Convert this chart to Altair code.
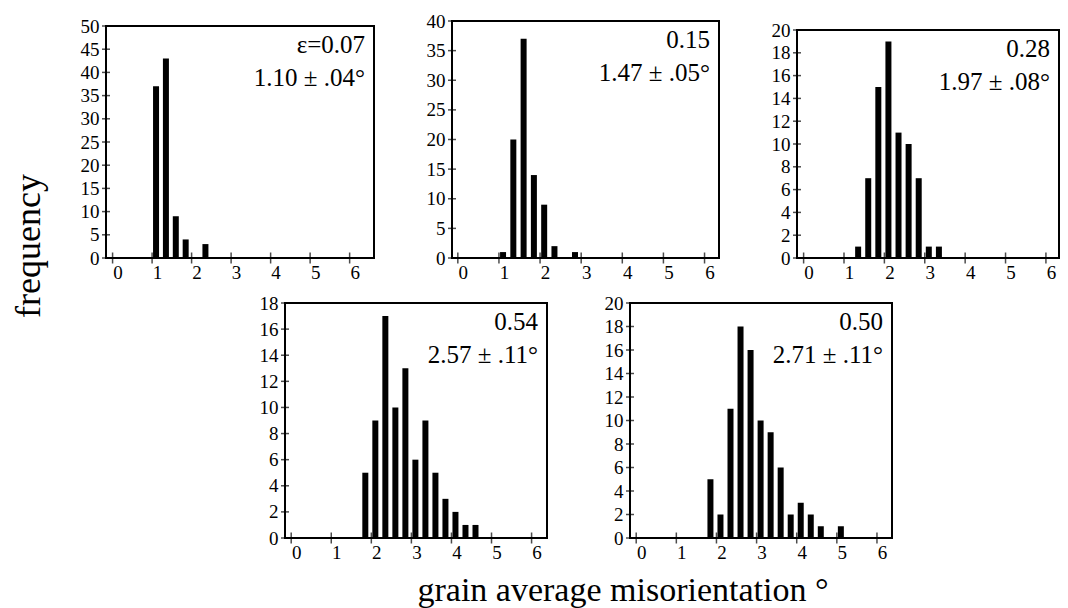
import altair as alt
import pandas as pd

FONT = "Liberation Serif"

# ---- data ----
strain_labels = ["ε=0.07", "0.15", "0.28", "0.54", "0.50"]
mean_labels = ["1.10 ± .04°", "1.47 ± .05°", "1.97 ± .08°", "2.57 ± .11°", "2.71 ± .11°"]

bins_1 = [1.1, 1.35, 1.6, 1.85, 2.35]
freq_1 = [37, 43, 9, 4, 3]

bins_2 = [1.1, 1.35, 1.6, 1.85, 2.1, 2.35, 2.85]
freq_2 = [1, 20, 37, 14, 9, 2, 1]

bins_3 = [1.35, 1.6, 1.85, 2.1, 2.35, 2.6, 2.85, 3.1, 3.35]
freq_3 = [1, 7, 15, 19, 11, 10, 7, 1, 1]

bins_4 = [1.85, 2.1, 2.35, 2.6, 2.85, 3.1, 3.35, 3.6, 3.85, 4.1, 4.35, 4.6]
freq_4 = [5, 9, 17, 10, 13, 6, 9, 5, 3, 2, 1, 1]

bins_5 = [1.85, 2.1, 2.35, 2.6, 2.85, 3.1, 3.35, 3.6, 3.85, 4.1, 4.35, 4.6, 5.1]
freq_5 = [5, 2, 11, 18, 16, 10, 9, 6, 2, 3, 2, 1, 1]

x_ticks = [0, 1, 2, 3, 4, 5, 6]
y_ticks_1 = [0, 5, 10, 15, 20, 25, 30, 35, 40, 45, 50]
y_ticks_2 = [0, 5, 10, 15, 20, 25, 30, 35, 40]
y_ticks_3 = [0, 2, 4, 6, 8, 10, 12, 14, 16, 18, 20]
y_ticks_4 = [0, 2, 4, 6, 8, 10, 12, 14, 16, 18]
y_ticks_5 = [0, 2, 4, 6, 8, 10, 12, 14, 16, 18, 20]

x_label = "grain average misorientation °"
y_label = "frequency"


def panel(bins, freqs, yticks, xdom, w, h, lab1, lab2):
    xs = alt.Scale(domain=xdom, nice=False, zero=False)
    ys = alt.Scale(domain=[yticks[0], yticks[-1]], nice=False)
    xa = alt.Axis(values=x_ticks, title=None, ticks=False, domain=False, grid=False,
                  labelFont=FONT, labelFontSize=19, labelPadding=5, labelOffset=5,
                  labelColor="black")
    ya = alt.Axis(values=yticks, title=None, ticks=False, domain=False, grid=False,
                  labelFont=FONT, labelFontSize=19, labelPadding=7, labelColor="black")
    X = alt.X("x:Q", scale=xs, axis=xa)
    Y = alt.Y("y:Q", scale=ys, axis=ya)

    bars = alt.Chart(pd.DataFrame({"x": bins, "y": freqs})).mark_bar(
        size=6, color="black").encode(x=X, y=Y)
    xt = alt.Chart(pd.DataFrame({"x": x_ticks})).mark_tick(
        orient="vertical", size=11, thickness=1.5, color="black"
    ).encode(x=X, y=alt.value(h))
    yt = alt.Chart(pd.DataFrame({"y": yticks})).mark_tick(
        orient="horizontal", size=8, thickness=1.5, color="black"
    ).encode(y=Y, x=alt.value(0))
    t1 = alt.Chart(pd.DataFrame({"t": [lab1]})).mark_text(
        font=FONT, fontSize=25, align="right", baseline="alphabetic", color="black"
    ).encode(text="t:N", x=alt.value(w - 9), y=alt.value(27))
    t2 = alt.Chart(pd.DataFrame({"t": [lab2]})).mark_text(
        font=FONT, fontSize=25, align="right", baseline="alphabetic", color="black"
    ).encode(text="t:N", x=alt.value(w - 9), y=alt.value(60))
    return alt.layer(bars, xt, yt, t1, t2).properties(width=w, height=h)


def spacer(w, h):
    return alt.Chart(pd.DataFrame({"s": [0]})).mark_point(
        opacity=0, size=0, strokeWidth=0
    ).encode(
        x=alt.value(0), y=alt.value(0)
    ).properties(width=w, height=h, view=alt.ViewBackground(stroke="transparent"))


def text_chart(txt, w, h, x, y, size, angle=0, baseline="alphabetic"):
    return alt.Chart(pd.DataFrame({"t": [txt]})).mark_text(
        font=FONT, fontSize=size, align="center", baseline=baseline,
        angle=angle, color="black"
    ).encode(text="t:N", x=alt.value(x), y=alt.value(y)).properties(
        width=w, height=h, view=alt.ViewBackground(stroke="transparent"))


p1 = panel(bins_1, freq_1, y_ticks_1, [-0.04, 6.49], 268, 232, strain_labels[0], mean_labels[0])
p2 = panel(bins_2, freq_2, y_ticks_2, [-0.02, 6.23], 267, 237, strain_labels[1], mean_labels[1])
p3 = panel(bins_3, freq_3, y_ticks_3, [-0.04, 6.20], 262, 228, strain_labels[2], mean_labels[2])
p4 = panel(bins_4, freq_4, y_ticks_4, [-0.03, 6.26], 262, 235, strain_labels[3], mean_labels[3])
p5 = panel(bins_5, freq_5, y_ticks_5, [-0.03, 6.25], 262, 235, strain_labels[4], mean_labels[4])

c1 = alt.vconcat(spacer(268, 6), p1, spacing=0)
c2 = alt.vconcat(spacer(267, 1), p2, spacing=0)
c3 = alt.vconcat(spacer(262, 10), p3, spacing=0)

row1 = alt.hconcat(c1, c2, c3, spacing=50)
row2 = alt.hconcat(spacer(96, 10), p4, p5, spacing=55)
xlab = text_chart(x_label, 800, 22, 517, 13, 34)

right = alt.vconcat(row1, row2, xlab, spacing=10)
ylab = text_chart(y_label, 60, 520, 20, 237, 36, angle=270, baseline="middle")

chart = alt.hconcat(ylab, right, spacing=9).properties(
    padding={"left": 0, "top": 0, "right": 0, "bottom": 0}
).configure_view(stroke="black", strokeWidth=2)

chart.save("out.html", embed_options={"renderer": "svg", "actions": False})
